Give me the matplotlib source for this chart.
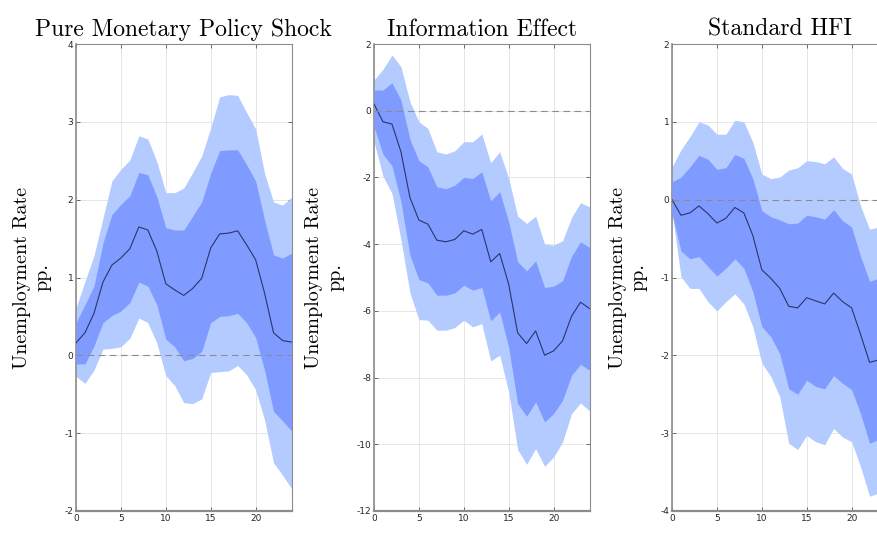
import matplotlib
matplotlib.use("Agg")
import matplotlib.pyplot as plt
import numpy as np

plt.rcParams['axes.unicode_minus'] = False

horizon = np.arange(25)

# Pure Monetary Policy Shock
mp_median = [0.16, 0.29, 0.54, 0.94, 1.16, 1.25, 1.37, 1.65, 1.61, 1.34, 0.92, 0.84, 0.77,
             0.86, 0.99, 1.38, 1.56, 1.57, 1.60, 1.42, 1.23, 0.80, 0.29, 0.19, 0.17]
mp_hi68 = [0.42, 0.65, 0.89, 1.44, 1.81, 1.94, 2.05, 2.35, 2.32, 2.04, 1.64, 1.61, 1.61,
           1.79, 1.97, 2.34, 2.63, 2.64, 2.64, 2.45, 2.24, 1.74, 1.29, 1.25, 1.31]
mp_lo68 = [-0.11, -0.11, 0.12, 0.42, 0.51, 0.57, 0.68, 0.94, 0.89, 0.65, 0.21, 0.11, -0.07,
           -0.04, 0.05, 0.42, 0.50, 0.51, 0.54, 0.42, 0.23, -0.19, -0.72, -0.84, -0.97]
mp_hi90 = [0.61, 0.95, 1.28, 1.76, 2.24, 2.39, 2.51, 2.82, 2.78, 2.49, 2.09, 2.09, 2.15,
           2.35, 2.56, 2.92, 3.32, 3.35, 3.34, 3.12, 2.91, 2.34, 1.97, 1.93, 2.03]
mp_lo90 = [-0.27, -0.36, -0.19, 0.08, 0.09, 0.11, 0.22, 0.48, 0.42, 0.16, -0.26, -0.39, -0.61,
           -0.62, -0.56, -0.22, -0.21, -0.20, -0.13, -0.25, -0.44, -0.83, -1.38, -1.54, -1.71]

# Information Effect
ie_median = [0.20, -0.33, -0.40, -1.23, -2.60, -3.28, -3.40, -3.88, -3.93, -3.86, -3.60, -3.70, -3.56,
             -4.53, -4.28, -5.20, -6.66, -6.98, -6.60, -7.33, -7.20, -6.90, -6.16, -5.74, -5.93]
ie_hi68 = [0.62, 0.62, 0.84, 0.32, -0.86, -1.50, -1.68, -2.28, -2.34, -2.23, -2.00, -2.03, -1.83,
           -2.70, -2.43, -3.33, -4.53, -4.80, -4.50, -5.30, -5.26, -5.10, -4.36, -3.93, -4.10]
ie_lo68 = [-0.48, -1.30, -1.65, -2.73, -4.33, -5.06, -5.16, -5.53, -5.53, -5.46, -5.23, -5.38, -5.30,
           -6.30, -6.03, -7.10, -8.78, -9.16, -8.73, -9.33, -9.08, -8.68, -7.93, -7.60, -7.78]
ie_hi90 = [0.92, 1.24, 1.67, 1.32, 0.27, -0.33, -0.53, -1.23, -1.30, -1.20, -0.93, -0.93, -0.70,
           -1.56, -1.23, -2.03, -3.16, -3.38, -3.16, -4.00, -4.03, -3.90, -3.20, -2.76, -2.88]
ie_lo90 = [-0.93, -1.96, -2.48, -3.86, -5.46, -6.26, -6.28, -6.58, -6.58, -6.50, -6.28, -6.48, -6.38,
           -7.50, -7.33, -8.43, -10.16, -10.60, -10.13, -10.66, -10.38, -9.93, -9.08, -8.76, -9.00]

# Standard HFI
hfi_median = [0.00, -0.20, -0.17, -0.08, -0.18, -0.30, -0.24, -0.10, -0.17, -0.46, -0.90, -1.01, -1.14,
              -1.37, -1.39, -1.26, -1.30, -1.34, -1.20, -1.31, -1.39, -1.73, -2.09, -2.06, -2.05]
hfi_hi68 = [0.23, 0.29, 0.42, 0.57, 0.52, 0.39, 0.41, 0.58, 0.53, 0.27, -0.14, -0.22, -0.26,
            -0.31, -0.30, -0.20, -0.22, -0.25, -0.13, -0.27, -0.35, -0.73, -1.05, -1.01, -1.00]
hfi_lo68 = [-0.18, -0.66, -0.76, -0.73, -0.86, -0.98, -0.88, -0.76, -0.88, -1.18, -1.63, -1.76, -1.98,
            -2.43, -2.50, -2.32, -2.40, -2.43, -2.26, -2.36, -2.44, -2.75, -3.13, -3.08, -3.05]
hfi_hi90 = [0.42, 0.64, 0.81, 1.00, 0.96, 0.84, 0.84, 1.02, 1.00, 0.74, 0.33, 0.27, 0.29,
            0.38, 0.41, 0.50, 0.49, 0.46, 0.55, 0.40, 0.33, -0.08, -0.38, -0.35, -0.30]
hfi_lo90 = [-0.16, -0.99, -1.14, -1.14, -1.31, -1.43, -1.31, -1.21, -1.34, -1.63, -2.10, -2.27, -2.53,
            -3.13, -3.21, -3.03, -3.11, -3.15, -2.94, -3.05, -3.11, -3.43, -3.81, -3.77, -3.75]

titles = ['Pure Monetary Policy Shock', 'Information Effect', 'Standard HFI']
ylims = [(-2, 4), (-12, 2), (-4, 2)]
yticks = [np.arange(-2, 5, 1), np.arange(-12, 3, 2), np.arange(-4, 3, 1)]
panels = [
    (mp_median, mp_lo68, mp_hi68, mp_lo90, mp_hi90),
    (ie_median, ie_lo68, ie_hi68, ie_lo90, ie_hi90),
    (hfi_median, hfi_lo68, hfi_hi68, hfi_lo90, hfi_hi90),
]

LIGHT = '#b3cbff'
DARK = '#7f9bff'
W, H = 877, 552
fig = plt.figure(figsize=(W / 100, H / 100), dpi=100)

# axes rectangles in pixels; the last one runs off the figure edge
lefts = [76, 374, 672]
width_px = 215.5
top_px, bottom_px = 44, 511

for i, (med, lo68, hi68, lo90, hi90) in enumerate(panels):
    ax = fig.add_axes([lefts[i] / W, 1 - bottom_px / H, width_px / W, (bottom_px - top_px) / H])
    ax.fill_between(horizon, lo90, hi90, color=LIGHT, lw=0, zorder=2)
    ax.fill_between(horizon, lo68, hi68, color=DARK, lw=0, zorder=3)
    ax.plot(horizon, med, color='#2b3568', lw=0.8, zorder=4)
    ax.axhline(0, color='#8c8c8c', lw=0.8, ls=(0, (6, 4)), zorder=5)

    ax.set_xlim(0, 24)
    ax.set_ylim(*ylims[i])
    ax.set_xticks([0, 5, 10, 15, 20])
    ax.set_yticks(yticks[i])
    ax.grid(True, color='#e6e6e6', lw=0.7, zorder=1)
    ax.set_axisbelow(True)
    ax.tick_params(direction='in', length=3, width=0.6, top=True, right=True,
                   labelsize=6.5, colors='#555555', labelcolor='#262626', pad=2)
    for s in ax.spines.values():
        s.set_color('#8c8c8c')
        s.set_linewidth(0.8)
    ax.spines['bottom'].set_linewidth(1.6)
    ax.spines['left'].set_linewidth(1.2)

    ax.set_title(titles[i], fontsize=17, family='cmr10', pad=6)
    ax.set_ylabel('Unemployment Rate\npp.', fontsize=14.5, family='cmr10',
                  linespacing=1.2, labelpad=9)

fig.savefig('out.png', dpi=100, facecolor='white')
